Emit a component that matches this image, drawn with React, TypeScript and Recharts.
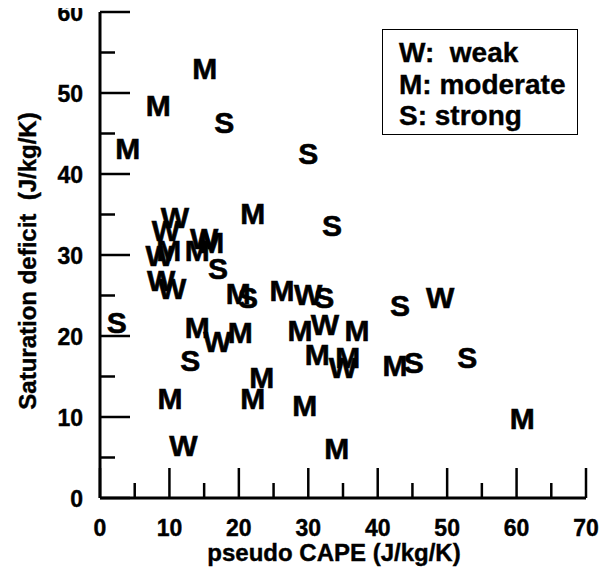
import React from 'react';
import { ScatterChart, Scatter, XAxis, YAxis, Legend } from 'recharts';

const weakX = [10.8, 9.5, 8.6, 15.0, 8.8, 10.4, 30.0, 49.0, 16.9, 32.4, 35.0, 12.0];
const weakY = [34.6, 33.1, 30.0, 32.1, 26.9, 25.9, 25.1, 24.8, 19.3, 21.4, 16.2, 6.5];

const moderateX = [15.1, 8.4, 4.0, 22.0, 9.9, 14.0, 16.1, 19.9, 26.2, 14.0, 20.2, 28.8, 37.0, 31.3, 35.7, 42.5, 23.3, 10.1, 22.0, 29.5, 60.8, 34.1];
const moderateY = [53.1, 48.5, 43.2, 35.2, 30.6, 30.6, 31.6, 25.3, 25.7, 21.1, 20.5, 20.7, 20.7, 17.7, 17.4, 16.4, 14.9, 12.3, 12.3, 11.5, 9.8, 6.2];

const strongX = [17.9, 30.0, 33.4, 17.0, 21.3, 32.3, 43.2, 2.4, 13.0, 45.2, 52.9];
const strongY = [46.4, 42.6, 33.7, 28.4, 24.8, 24.8, 23.8, 21.7, 17.0, 16.8, 17.4];

const xTicks = [0, 5, 10, 15, 20, 25, 30, 35, 40, 45, 50, 55, 60, 65, 70];
const yTicks = [0, 5, 10, 15, 20, 25, 30, 35, 40, 45, 50, 55, 60];

const legendLabels = ['W:  weak', 'M: moderate', 'S: strong'];

const xTitle = 'pseudo CAPE (J/kg/K)';
const yTitle = 'Saturation deficit  (J/kg/K)';

const FONT = '"Liberation Sans", Arial, Helvetica, sans-serif';

const toPoints = (xs: number[], ys: number[]) => xs.map((x, i) => ({ x, y: ys[i] }));

const weakData = toPoints(weakX, weakY);
const moderateData = toPoints(moderateX, moderateY);
const strongData = toPoints(strongX, strongY);

const MARKER_SIZE = 30;

const letterShape = (letter: string) => (props: any) => {
  const { cx, cy } = props;
  if (cx == null || cy == null) return <g />;
  return (
    <text
      x={cx}
      y={cy + MARKER_SIZE * 0.358}
      textAnchor="middle"
      fontFamily={FONT}
      fontWeight="bold"
      fontSize={MARKER_SIZE}
      fill="#000"
      stroke="#000"
      strokeWidth={0.6}
    >
      {letter}
    </text>
  );
};

const YTick = (props: any) => {
  const { x, y, payload } = props;
  const major = payload.value % 10 === 0;
  return (
    <g>
      <line x1={x} y1={y} x2={x + (major ? 30 : 15)} y2={y} stroke="#000" strokeWidth={2.5} />
      {major && (
        <text x={x - 17} y={y + 9} textAnchor="end" fontFamily={FONT} fontWeight="bold" fontSize={23} fill="#000" stroke="#000" strokeWidth={0.4}>
          {payload.value}
        </text>
      )}
    </g>
  );
};

const XTick = (props: any) => {
  const { x, y, payload } = props;
  const major = payload.value % 10 === 0;
  return (
    <g>
      <line x1={x} y1={y} x2={x} y2={y - (major ? 30 : 15)} stroke="#000" strokeWidth={2.5} />
      {major && (
        <text x={x} y={y + 38} textAnchor="middle" fontFamily={FONT} fontWeight="bold" fontSize={23} fill="#000" stroke="#000" strokeWidth={0.4}>
          {payload.value}
        </text>
      )}
    </g>
  );
};

const LegendBox = () => (
  <div
    style={{
      border: '1px solid #000',
      background: '#fff',
      width: 194,
      height: 104,
      boxSizing: 'content-box',
      fontFamily: FONT,
      fontWeight: 'bold',
      fontSize: 28,
      color: '#000',
      position: 'relative',
      WebkitTextStroke: '0.4px #000',
    }}
  >
    {legendLabels.map((l, i) => (
      <div
        key={l}
        style={{ position: 'absolute', left: 16, top: 8 + i * 31.5, whiteSpace: 'pre', lineHeight: '30px' }}
      >
        {l}
      </div>
    ))}
  </div>
);

export default function App() {
  return (
    <div style={{ width: 610, height: 571, position: 'relative', background: '#fff', margin: '-8px 0 0 -8px' }}>
      <ScatterChart width={610} height={571} margin={{ top: 12, right: 24, bottom: 0, left: 0 }}>
        <XAxis
          type="number"
          dataKey="x"
          domain={[0, 70]}
          ticks={xTicks}
          interval={0}
          tickSize={0}
          tickMargin={0}
          tickLine={false}
          tick={<XTick />}
          height={73}
          axisLine={{ stroke: '#000', strokeWidth: 3 }}
          allowDataOverflow
          label={(p: any) => {
            const vb = p.viewBox;
            return (
              <text
                x={vb.x + vb.width / 2 - 9}
                y={vb.y + 63}
                textAnchor="middle"
                fontFamily={FONT}
                fontWeight="bold"
                fontSize={24}
                fill="#000"
                stroke="#000"
                strokeWidth={0.4}
              >
                {xTitle}
              </text>
            );
          }}
        />
        <YAxis
          type="number"
          dataKey="y"
          domain={[0, 60]}
          ticks={yTicks}
          interval={0}
          tickSize={0}
          tickMargin={0}
          tickLine={false}
          tick={<YTick />}
          width={100}
          axisLine={{ stroke: '#000', strokeWidth: 3 }}
          allowDataOverflow
          label={(p: any) => {
            const vb = p.viewBox;
            const cx = 36;
            const cy = vb.y + vb.height / 2 + 6;
            return (
              <text
                x={cx}
                y={cy}
                transform={`rotate(-90, ${cx}, ${cy})`}
                textAnchor="middle"
                fontFamily={FONT}
                fontWeight="bold"
                fontSize={24}
                fill="#000"
                stroke="#000"
                strokeWidth={0.4}
                style={{ whiteSpace: 'pre' }}
              >
                {yTitle}
              </text>
            );
          }}
        />
        <Legend
          layout="vertical"
          align="center"
          verticalAlign="middle"
          wrapperStyle={{ left: 382, top: 29, width: 196, height: 106 }}
          content={() => <LegendBox />}
        />
        <Scatter name="weak" data={weakData} shape={letterShape('W')} isAnimationActive={false} />
        <Scatter name="moderate" data={moderateData} shape={letterShape('M')} isAnimationActive={false} />
        <Scatter name="strong" data={strongData} shape={letterShape('S')} isAnimationActive={false} />
      </ScatterChart>
    </div>
  );
}
